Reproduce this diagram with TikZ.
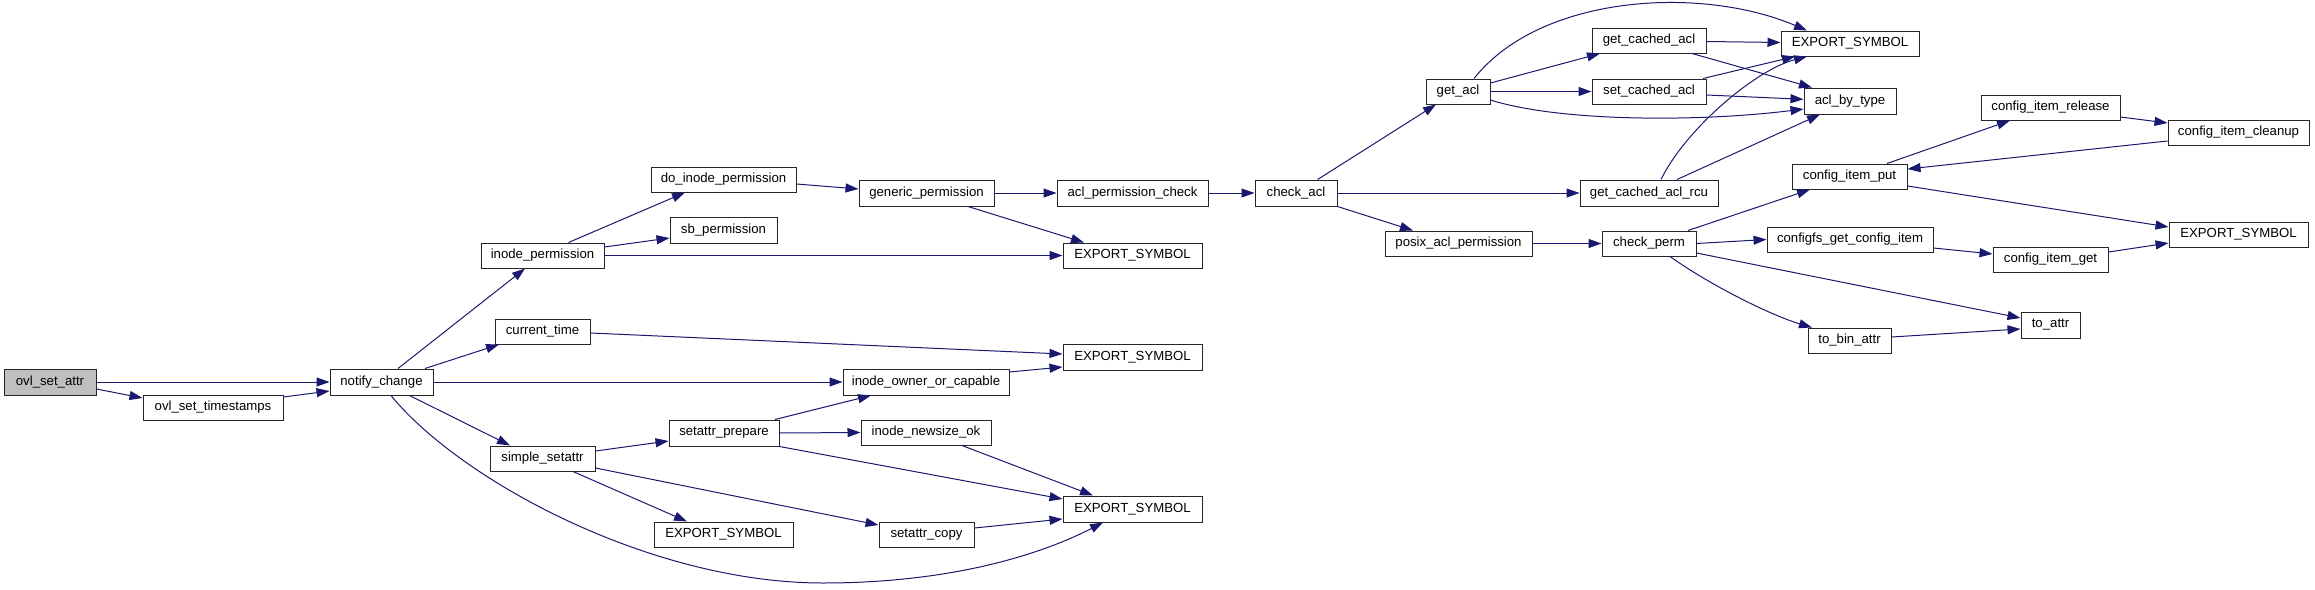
\documentclass[tikz,border=0pt]{standalone}
\usepackage{fontspec}
\setmainfont{Liberation Sans}
\usetikzlibrary{arrows.meta}
\definecolor{edgeblue}{HTML}{191970}
\definecolor{rootgray}{HTML}{BFBFBF}
\newcommand\mkbox[7][]{%
  \pgfmathsetmacro\bw{#5-#3}\pgfmathsetmacro\bh{#6-#4}%
  \node[box,#1,minimum width=\bw pt,minimum height=\bh pt] (#2) at ({(#3+#5)/2},{(#4+#6)/2}) {#7};}
\tikzset{
  box/.style={draw=black!85, fill=white, line width=1pt, inner sep=0pt, rectangle,
    font=\fontsize{13.2}{15}\selectfont},
  edge/.style={draw=edgeblue, line width=1pt, -{Triangle[length=13pt,width=9pt]}}
}
\begin{document}
\begin{tikzpicture}[x=1pt,y=-1pt]
\useasboundingbox (0,0) rectangle (2315,589);
\fill[white] (0,0) rectangle (2315,589);
% nodes
\mkbox[fill=rootgray]{osa}{4}{369}{96}{395}{ovl\_set\_attr}
\mkbox{ost}{143}{395}{283}{420}{ovl\_set\_timestamps}
\mkbox{nc}{330}{369}{433}{395}{notify\_change}
\mkbox{ip}{481}{243}{604}{268}{inode\_permission}
\mkbox{ct}{495}{319}{590}{344}{current\_time}
\mkbox{ss}{490}{446}{595}{471}{simple\_setattr}
\mkbox{dip}{651}{167}{796}{192}{do\_inode\_permission}
\mkbox{sbp}{670}{217}{777}{243}{sb\_permission}
\mkbox{sp}{669}{420}{779}{446}{setattr\_prepare}
\mkbox{exa}{654}{522}{793}{547}{EXPORT\_SYMBOL}
\mkbox{gp}{859}{180}{994}{206}{generic\_permission}
\mkbox{ioc}{843}{369}{1009}{395}{inode\_owner\_or\_capable}
\mkbox{ino}{861}{420}{991}{445}{inode\_newsize\_ok}
\mkbox{sc}{879}{522}{974}{547}{setattr\_copy}
\mkbox{apc}{1057}{180}{1208}{206}{acl\_permission\_check}
\mkbox{exb}{1063}{243}{1202}{268}{EXPORT\_SYMBOL}
\mkbox{exc}{1063}{344}{1202}{370}{EXPORT\_SYMBOL}
\mkbox{exd}{1063}{496}{1202}{522}{EXPORT\_SYMBOL}
\mkbox{ca}{1255}{180}{1337}{206}{check\_acl}
\mkbox{ga}{1426}{79}{1490}{104}{get\_acl}
\mkbox{pap}{1385}{231}{1532}{256}{posix\_acl\_permission}
\mkbox{gca}{1592}{28}{1706}{53}{get\_cached\_acl}
\mkbox{sca}{1592}{79}{1706}{104}{set\_cached\_acl}
\mkbox{gcar}{1580}{180}{1718}{206}{get\_cached\_acl\_rcu}
\mkbox{cp}{1602}{231}{1696}{256}{check\_perm}
\mkbox{exe}{1781}{31}{1919}{56}{EXPORT\_SYMBOL}
\mkbox{abt}{1804}{88}{1896}{114}{acl\_by\_type}
\mkbox{cip}{1792}{164}{1907}{189}{config\_item\_put}
\mkbox{cfg}{1767}{227}{1933}{252}{configfs\_get\_config\_item}
\mkbox{tba}{1808}{328}{1891}{353}{to\_bin\_attr}
\mkbox{cir}{1981}{95}{2120}{120}{config\_item\_release}
\mkbox{cig}{1993}{247}{2108}{272}{config\_item\_get}
\mkbox{ta}{2021}{312}{2080}{338}{to\_attr}
\mkbox{cic}{2168}{120}{2309}{145}{config\_item\_cleanup}
\mkbox{exf}{2169}{222}{2308}{247}{EXPORT\_SYMBOL}
% edges
\draw[edge] (osa.east) -- (nc.west);
\draw[edge] ([yshift=-7pt]osa.east) -- ([yshift=9.5pt]ost.west);
\draw[edge] ([yshift=10.5pt]ost.east) -- ([yshift=-9pt]nc.west);
\draw[edge] ([xshift=16.5pt]nc.north) -- ([xshift=-17.5pt]ip.south);
\draw[edge] ([xshift=43.5pt]nc.north) -- ([xshift=-43.5pt]ct.south);
\draw[edge] (nc.east) -- (ioc.west);
\draw[edge] ([xshift=28pt]nc.south) -- ([xshift=-32.5pt]ss.north);
\draw[edge] ([xshift=9.5pt]nc.south) .. controls (460,480) and (650,583) .. (823,583)
   .. controls (950,583) and (1040,555) .. ([xshift=-29.5pt]exd.south);
\draw[edge] ([xshift=26pt]ip.north) -- ([xshift=-38.5pt]dip.south);
\draw[edge] ([yshift=8.5pt]ip.east) -- ([yshift=-8pt]sbp.west);
\draw[edge] (ip.east) -- (exb.west);
\draw[edge] ([yshift=-4.5pt]dip.east) -- ([yshift=4pt]gp.west);
\draw[edge] (gp.east) -- (apc.west);
\draw[edge] ([xshift=41.5pt]gp.south) -- ([xshift=-48.5pt]exb.north);
\draw[edge] (apc.east) -- (ca.west);
\draw[edge] ([xshift=21.6pt]ca.north) -- ([xshift=-22pt]ga.south);
\draw[edge] (ca.east) -- (gcar.west);
\draw[edge] (ca.south east) -- ([xshift=-45.5pt]pap.north);
\draw[edge] (pap.east) -- (cp.west);
\draw[edge] ([xshift=16pt]ga.north) .. controls (1540,-5) and (1700,-15) .. ([xshift=-43pt]exe.north);
\draw[edge] ([yshift=8.5pt]ga.east) -- ([xshift=-49pt]gca.south);
\draw[edge] (ga.east) -- (sca.west);
\draw[edge] ([yshift=-8.5pt]ga.east) .. controls (1560,122) and (1700,122) .. ([yshift=-8pt]abt.west);
\draw[edge] ([yshift=-1pt]gca.east) -- ([yshift=1pt]exe.west);
\draw[edge] ([xshift=43pt]gca.south) -- ([xshift=-38pt]abt.north);
\draw[edge] ([xshift=54pt]sca.north) -- ([xshift=-55pt]exe.south);
\draw[edge] ([yshift=-3.5pt]sca.east) -- ([yshift=1.7pt]abt.west);
\draw[edge] ([xshift=12pt]gcar.north) .. controls (1685,130) and (1755,70) .. ([xshift=-43pt]exe.south);
\draw[edge] ([xshift=28pt]gcar.north) -- ([xshift=-30pt]abt.south);
\draw[edge] ([xshift=39pt]cp.north) -- ([xshift=-39.5pt]cip.south);
\draw[edge] (cp.east) -- (cfg.west);
\draw[edge] ([yshift=-9.5pt]cp.east) -- ([yshift=7pt]ta.west);
\draw[edge] ([xshift=21pt]cp.south) .. controls (1710,285) and (1770,315) .. ([xshift=-37.5pt]tba.north);
\draw[edge] ([yshift=3.5pt]tba.east) -- ([yshift=-4pt]ta.west);
\draw[edge] ([xshift=37.5pt]cip.north) -- ([xshift=-40.5pt]cir.south);
\draw[edge] ([yshift=-9.5pt]cip.east) -- ([yshift=7.5pt]exf.west);
\draw[edge] ([yshift=-9.5pt]cir.east) -- ([yshift=9.5pt]cic.west);
\draw[edge] ([yshift=-8.5pt]cic.west) -- ([yshift=7.5pt]cip.east);
\draw[edge] ([yshift=-8.5pt]cfg.east) -- ([yshift=5.5pt]cig.west);
\draw[edge] ([yshift=7.5pt]cig.east) -- ([yshift=-8.5pt]exf.west);
\draw[edge] ([yshift=-1.5pt]ct.east) -- ([yshift=3pt]exc.west);
\draw[edge] ([yshift=10pt]ioc.east) -- ([yshift=-10pt]exc.west);
\draw[edge] ([yshift=7.5pt]ss.east) -- ([yshift=-8pt]sp.west);
\draw[edge] ([xshift=30.5pt]ss.south) -- ([xshift=-36.5pt]exa.north);
\draw[edge] ([yshift=-9.5pt]ss.east) -- ([yshift=9.5pt]sc.west);
\draw[edge] ([xshift=51pt]sp.north) -- ([xshift=-55pt]ioc.south);
\draw[edge] (sp.east) -- (ino.west);
\draw[edge] (sp.south east) -- ([yshift=10pt]exd.west);
\draw[edge] ([xshift=36pt]ino.south) -- ([xshift=-39.5pt]exd.north);
\draw[edge] ([yshift=6.5pt]sc.east) -- ([yshift=-10pt]exd.west);
\end{tikzpicture}
\end{document}
